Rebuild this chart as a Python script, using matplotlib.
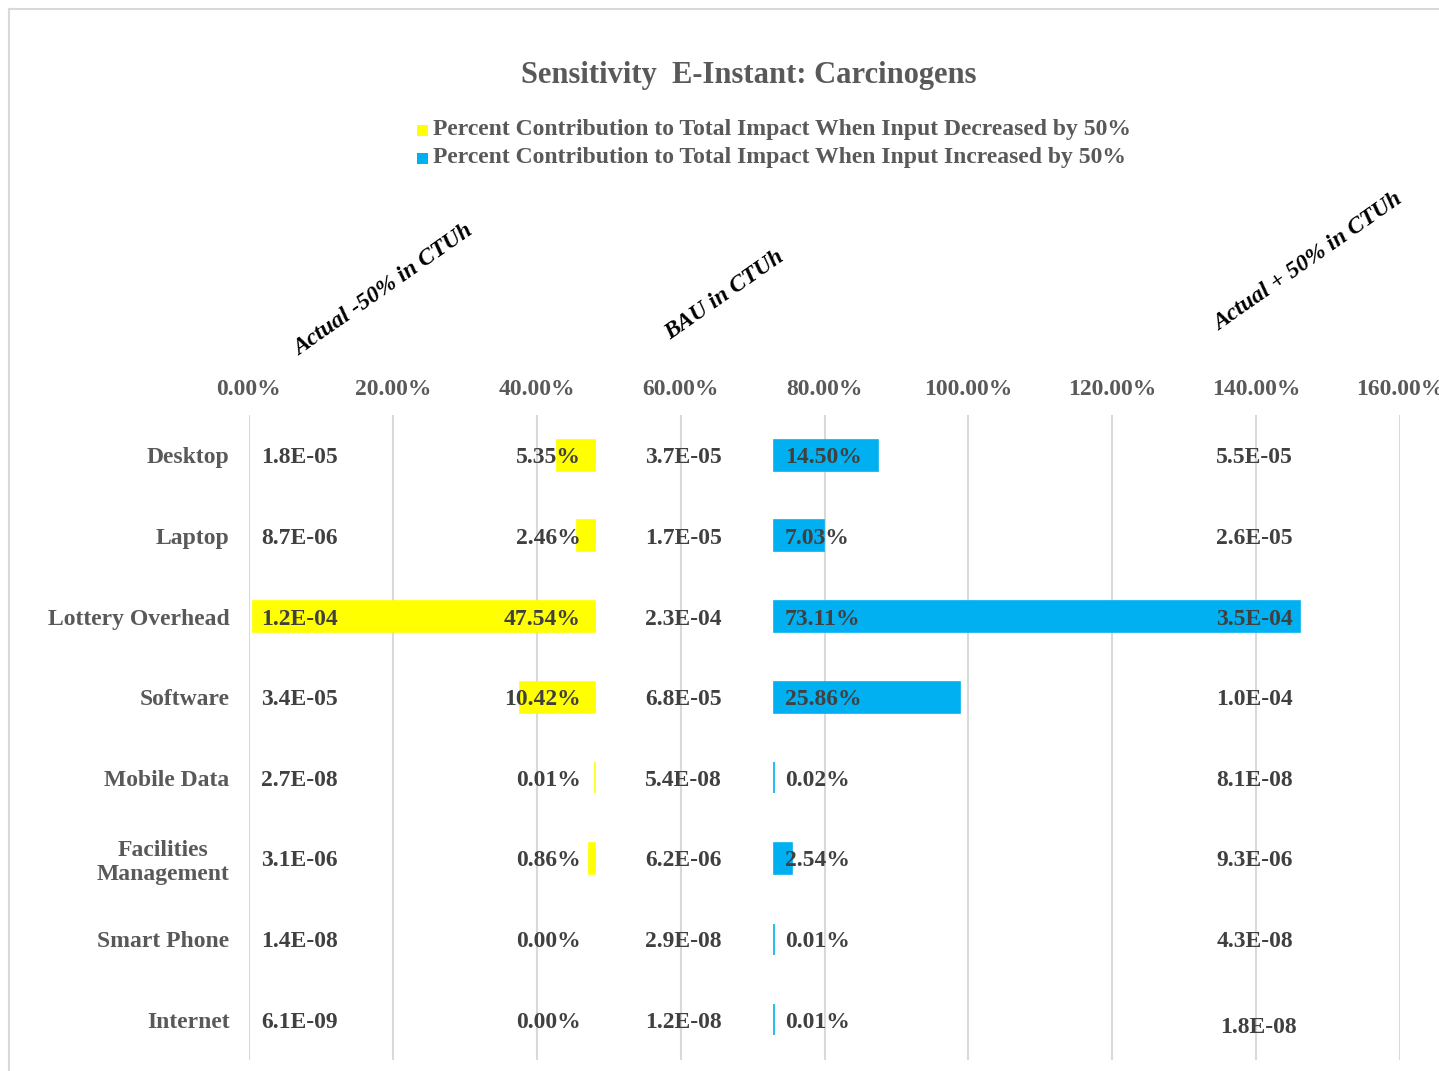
import matplotlib
matplotlib.use("Agg")
import matplotlib.pyplot as plt
from matplotlib.patches import Rectangle
from matplotlib.lines import Line2D

# ---------------- data ----------------
categories = ["Desktop", "Laptop", "Lottery Overhead", "Software", "Mobile Data",
              "Facilities\nManagement", "Smart Phone", "Internet"]
actual_minus50 = ["1.8E-05", "8.7E-06", "1.2E-04", "3.4E-05", "2.7E-08", "3.1E-06", "1.4E-08", "6.1E-09"]
pct_decreased = [5.35, 2.46, 47.54, 10.42, 0.01, 0.86, 0.00, 0.00]
bau = ["3.7E-05", "1.7E-05", "2.3E-04", "6.8E-05", "5.4E-08", "6.2E-06", "2.9E-08", "1.2E-08"]
pct_increased = [14.50, 7.03, 73.11, 25.86, 0.02, 2.54, 0.01, 0.01]
actual_plus50 = ["5.5E-05", "2.6E-05", "3.5E-04", "1.0E-04", "8.1E-08", "9.3E-06", "4.3E-08", "1.8E-08"]
xticks = [0.0, 0.2, 0.4, 0.6, 0.8, 1.0, 1.2, 1.4, 1.6]
tick_labels = ["0.00%", "20.00%", "40.00%", "60.00%", "80.00%", "100.00%", "120.00%", "140.00%", "160.00%"]
legend_labels = ["Percent Contribution to Total Impact When Input Decreased by 50%",
                 "Percent Contribution to Total Impact When Input Increased by 50%"]
title = "Sensitivity  E-Instant: Carcinogens"
headers = ["Actual -50% in CTUh", "BAU in CTUh", "Actual + 50% in CTUh"]

# ---------------- style ----------------
YELLOW = "#FFFF00"
BLUE = "#00B0F0"
GRAY = "#595959"
DARK = "#404040"
GRID = "#D9D9D9"
FONT = "Liberation Serif"
FS = 17

W, H = 1439, 1071
fig = plt.figure(figsize=(W / 100, H / 100), dpi=100)
fig.patch.set_facecolor("white")

ax = fig.add_axes([249 / W, 1 - 1060 / H, 1151 / W, 645 / H])
ax.set_xlim(0, 1.6)
ax.set_ylim(len(categories) - 0.5, -0.5)

dec_end = 0.481     # right end of yellow bars
inc_start = 0.7295  # left start of blue bars
bh = 0.385

ys = list(range(len(categories)))
dec = [v / 100 for v in pct_decreased]
inc = [v / 100 for v in pct_increased]

ax.barh(ys, dec, left=[dec_end - d for d in dec], height=bh, color=YELLOW,
        edgecolor=YELLOW, linewidth=[1.2 if d > 0 else 0 for d in dec], zorder=2)
ax.barh(ys, inc, left=inc_start, height=bh, color=BLUE,
        edgecolor=BLUE, linewidth=[1.2 if d > 0 else 0 for d in inc], zorder=2)

tkw = dict(fontfamily=FONT, fontweight="bold", fontsize=FS, color=DARK,
           va="center_baseline", zorder=3)
for i in ys:
    ax.text(0.0167, i, actual_minus50[i], ha="left", **tkw)
    ax.text(0.4615, i, f"{pct_decreased[i]:.2f}%", ha="right", **tkw)
    ax.text(0.5505, i, bau[i], ha="left", **tkw)
    ax.text(0.745, i, f"{pct_increased[i]:.2f}%", ha="left", **tkw)
    dx, dy = (0.006, 0.07) if i == len(categories) - 1 else (0.0, 0.0)
    ax.text(1.451 + dx, i + dy, actual_plus50[i], ha="right", **tkw)

# axes styling
ax.xaxis.tick_top()
ax.set_xticks(xticks)
ax.set_xticklabels(tick_labels)
ax.set_yticks(ys)
ax.set_yticklabels(categories)
for lab in ax.get_xticklabels() + ax.get_yticklabels():
    lab.set_fontfamily(FONT)
    lab.set_fontweight("bold")
    lab.set_fontsize(FS)
    lab.set_color(GRAY)
for lab in ax.get_yticklabels():
    lab.set_multialignment("center")
ax.tick_params(axis="x", length=0, pad=11)
ax.tick_params(axis="y", length=0, pad=14)
for s in ax.spines.values():
    s.set_visible(False)
ax.grid(axis="x", color=GRID, linewidth=1.5, zorder=0)
ax.set_axisbelow(True)

# title
fig.text(749 / W, 1 - 75 / H, title, ha="center", va="center",
         fontfamily=FONT, fontweight="bold", fontsize=22, color=GRAY)

# legend (manual)
leg_colors = [YELLOW, BLUE]
leg_y = [130, 158]
for c, lbl, y in zip(leg_colors, legend_labels, leg_y):
    fig.patches.append(Rectangle((417 / W, 1 - (y + 6) / H), 11 / W, 11 / H,
                                 transform=fig.transFigure, facecolor=c, edgecolor="none"))
    fig.text(433 / W, 1 - y / H, lbl, ha="left", va="center",
             fontfamily=FONT, fontweight="bold", fontsize=FS, color=GRAY)

# rotated column headers
hdr_pos = [(383, 290), (725, 295), (1308, 262)]
for txt, (x, y) in zip(headers, hdr_pos):
    fig.text(x / W, 1 - y / H, txt, ha="center", va="center", rotation=35,
             rotation_mode="anchor", fontfamily=FONT, fontweight="bold",
             fontstyle="italic", fontsize=FS, color="black")

# chart border (top & left visible)
fig.add_artist(Line2D([8.5 / W, 8.5 / W], [1 - 8.5 / H, 0], transform=fig.transFigure,
                      color=GRID, linewidth=1.5))
fig.add_artist(Line2D([8.5 / W, 1], [1 - 8.5 / H, 1 - 8.5 / H], transform=fig.transFigure,
                      color=GRID, linewidth=1.5))

fig.savefig("out.png", dpi=100)
